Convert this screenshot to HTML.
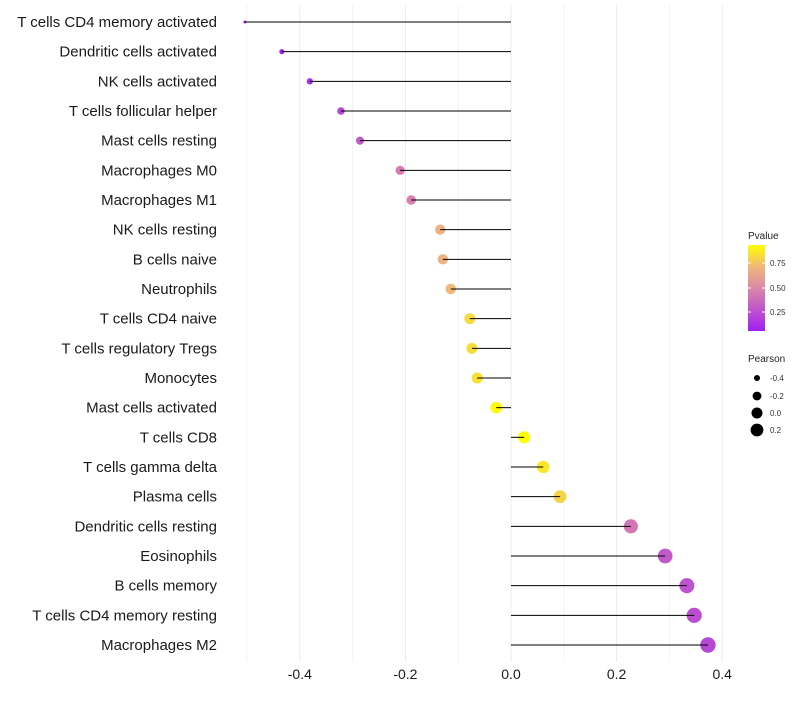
<!DOCTYPE html>
<html><head><meta charset="utf-8"><style>
body{margin:0;background:#fff;font-family:"Liberation Sans",sans-serif}
svg text{font-family:"Liberation Sans",sans-serif}
</style></head><body>
<svg id="chart" width="800" height="700" xmlns="http://www.w3.org/2000/svg">
<g id="grid"></g>
<g id="points"></g>
<g id="stems"></g>
<g id="ylabels"></g>
<g id="xlabels"></g>
<defs><linearGradient id="pg" x1="0" y1="1" x2="0" y2="0">
<stop offset="0" stop-color="#a020f0"/><stop offset="0.5" stop-color="#dc88a8"/><stop offset="0.75" stop-color="#f0b878"/><stop offset="1" stop-color="#ffff00"/></linearGradient></defs>
<g>
<text x="748" y="239" font-size="10" fill="#222">Pvalue</text>
<rect x="748" y="245" width="17" height="86" fill="url(#pg)"/>
<line x1="748" y1="263" x2="751" y2="263" stroke="#fff"/><line x1="762" y1="263" x2="765" y2="263" stroke="#fff"/>
<line x1="748" y1="288" x2="751" y2="288" stroke="#fff"/><line x1="762" y1="288" x2="765" y2="288" stroke="#fff"/>
<line x1="748" y1="312" x2="751" y2="312" stroke="#fff"/><line x1="762" y1="312" x2="765" y2="312" stroke="#fff"/>
<text x="770" y="266" font-size="8" fill="#333">0.75</text>
<text x="770" y="291" font-size="8" fill="#333">0.50</text>
<text x="770" y="315" font-size="8" fill="#333">0.25</text>
</g>
<g>
<text x="748" y="362" font-size="10" fill="#222">Pearson</text>
<circle cx="757" cy="378" r="3" fill="#000"/><text x="770" y="381" font-size="8" fill="#333">-0.4</text>
<circle cx="757" cy="396" r="4.4" fill="#000"/><text x="770" y="399" font-size="8" fill="#333">-0.2</text>
<circle cx="757" cy="413" r="5.5" fill="#000"/><text x="770" y="416" font-size="8" fill="#333">0.0</text>
<circle cx="757" cy="430" r="6.4" fill="#000"/><text x="770" y="433" font-size="8" fill="#333">0.2</text>
</g>
</svg>
<script>
const categories=["T cells CD4 memory activated","Dendritic cells activated","NK cells activated","T cells follicular helper","Mast cells resting","Macrophages M0","Macrophages M1","NK cells resting","B cells naive","Neutrophils","T cells CD4 naive","T cells regulatory  Tregs ","Monocytes","Mast cells activated","T cells CD8","T cells gamma delta","Plasma cells","Dendritic cells resting","Eosinophils","B cells memory","T cells CD4 memory resting","Macrophages M2"];
const pearson=[-0.504,-0.434,-0.381,-0.322,-0.286,-0.210,-0.189,-0.134,-0.129,-0.114,-0.078,-0.074,-0.064,-0.028,0.025,0.061,0.093,0.227,0.292,0.333,0.347,0.373];
const pvalue=[0.06,0.09,0.14,0.22,0.3,0.44,0.46,0.68,0.69,0.72,0.82,0.83,0.84,0.92,0.93,0.86,0.8,0.42,0.3,0.27,0.25,0.22];
const xTicks=[-0.4,-0.2,0.0,0.2,0.4];
const xTickLabels=["-0.4","-0.2","0.0","0.2","0.4"];
const NS="http://www.w3.org/2000/svg";
const X=v=>511+v*528;
const Y=i=>22+i*(623/21);
function mk(t,a,p){const e=document.createElementNS(NS,t);for(const k in a)e.setAttribute(k,a[k]);p.appendChild(e);return e;}
function lerp(a,b,t){return a.map((v,i)=>Math.round(v+(b[i]-v)*t));}
const stops=[[0,[160,32,240]],[0.5,[220,136,168]],[0.75,[240,184,120]],[1,[255,255,0]]];
function col(p){let t=(p-0.056)/(0.934-0.056);t=Math.max(0,Math.min(1,t));
for(let k=1;k<stops.length;k++){if(t<=stops[k][0]){const a=stops[k-1],b=stops[k];return `rgb(${lerp(a[1],b[1],(t-a[0])/(b[0]-a[0]))})`;}}
return 'rgb(255,255,0)';}
const pmin=-0.504,pmax=0.373;
function rad(v){return Math.sqrt(2.25+57*(v-pmin)/(pmax-pmin));}
const grid=document.getElementById('grid');
for(let g=-0.5;g<=0.45;g+=0.1){const l=mk('line',{x1:X(g),x2:X(g),y1:5,y2:662,stroke:Math.abs(Math.round(g*10))%2==0?'#ebebeb':'#f3f3f3','stroke-width':1},grid);

}
const pts=document.getElementById('points'),stems=document.getElementById('stems'),yl=document.getElementById('ylabels'),xl=document.getElementById('xlabels');
categories.forEach((c,i)=>{
const p=mk('circle',{cx:X(pearson[i]),cy:Y(i),r:rad(pearson[i]),fill:col(pvalue[i])},pts);


const s=mk('line',{x1:X(0),x2:X(pearson[i]),y1:Y(i),y2:Y(i),stroke:'#000','stroke-width':1},stems);


const t=mk('text',{x:217,y:Y(i)+5,'text-anchor':'end','font-size':15,fill:'#1a1a1a'},yl);t.textContent=c;


});
xTicks.forEach((v,i)=>{const t=mk('text',{x:X(v),y:679,'text-anchor':'middle','font-size':14,fill:'#1a1a1a'},xl);t.textContent=xTickLabels[i];

});
</script>
</body></html>
